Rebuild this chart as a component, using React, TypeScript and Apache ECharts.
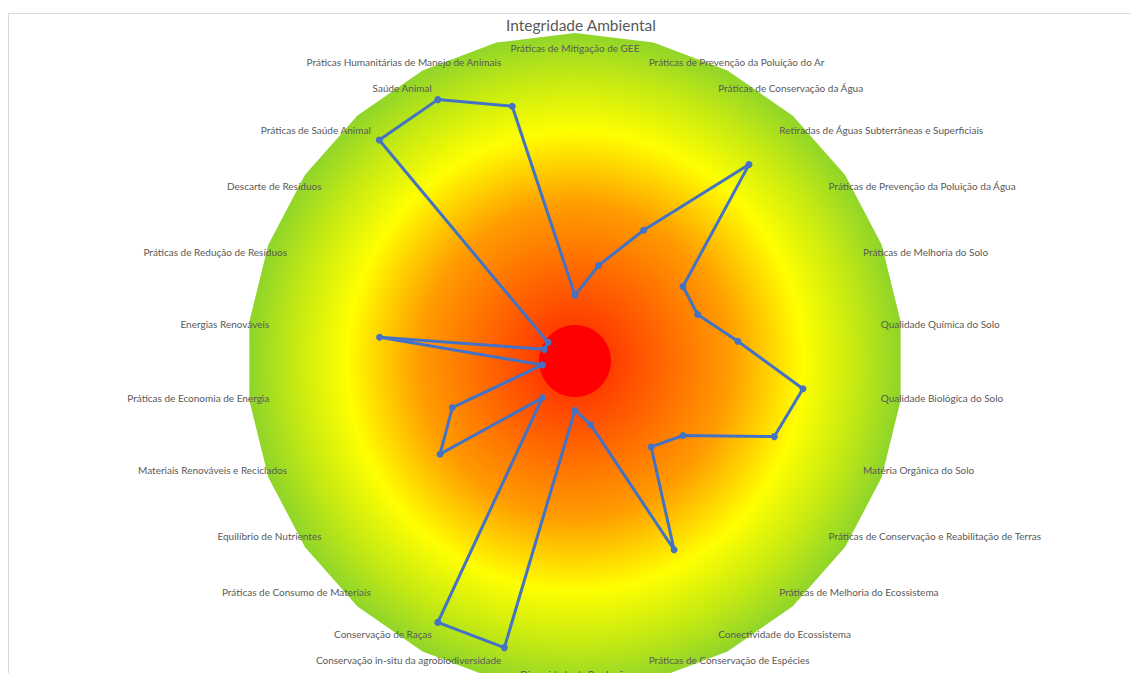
import React, { useEffect, useRef } from "react";
import * as echarts from "echarts";

// Indicators listed clockwise starting at the top of the radar
const indicators: string[] = [
  "Práticas de Mitigação de GEE",
  "Práticas de Prevenção da Poluição do Ar",
  "Práticas de Conservação da Água",
  "Retiradas de Águas Subterrâneas e Superficiais",
  "Práticas de Prevenção da Poluição da Água",
  "Práticas de Melhoria do Solo",
  "Qualidade Química do Solo",
  "Qualidade Biológica do Solo",
  "Matéria Orgânica do Solo",
  "Práticas de Conservação e Reabilitação de Terras",
  "Práticas de Melhoria do Ecossistema",
  "Conectividade do Ecossistema",
  "Práticas de Conservação de Espécies",
  "Diversidade da Produção",
  "Conservação in-situ da agrobiodiversidade",
  "Conservação de Raças",
  "Práticas de Consumo de Materiais",
  "Equilíbrio de Nutrientes",
  "Materiais Renováveis e Reciclados",
  "Práticas de Economia de Energia",
  "Energias Renováveis",
  "Práticas de Redução de Resíduos",
  "Descarte de Resíduos",
  "Práticas de Saúde Animal",
  "Saúde Animal",
  "Práticas Humanitárias de Manejo de Animais",
];

// Scores (0–10), same order as the indicators
const scores: number[] = [
  2, 3, 4.5, 8, 4, 4, 5, 7, 6.5, 4, 3.5, 6.5, 2, 1.5, 9, 9, 1.5, 5, 4, 1, 6, 1, 1,
  9, 9, 8,
];

const scaleMin = 0;
const scaleMax = 10;
const chartTitle = "Integridade Ambiental";

const CENTER: [number, number] = [566, 347];
const RADIUS = 328;
const TEXT_COLOR = "#595959";
const LINE_COLOR = "#4472c4";

export default function App() {
  const ref = useRef<HTMLDivElement>(null);

  useEffect(() => {
    if (!ref.current) return;
    const chart = echarts.init(ref.current, undefined, { renderer: "svg" });

    // ECharts lays radar axes out counter-clockwise, so walk the list backwards
    const order = indicators.map((_, i) => (i === 0 ? 0 : indicators.length - i));

    const background = new echarts.graphic.RadialGradient(0.5, 0.5, 0.5, [
      { offset: 0, color: "#ff2000" },
      { offset: 0.22, color: "#ff5a00" },
      { offset: 0.48, color: "#ff9d00" },
      { offset: 0.7, color: "#ffff00" },
      { offset: 0.86, color: "#c6ea12" },
      { offset: 1, color: "#8fd52a" },
    ]);

    chart.setOption({
      animation: false,
      backgroundColor: "#ffffff",
      title: {
        text: chartTitle,
        left: 572,
        top: 3,
        textAlign: "center",
        padding: 0,
        textStyle: {
          fontFamily: "Lato",
          fontSize: 15.5,
          fontWeight: "normal",
          color: TEXT_COLOR,
        },
      },
      radar: {
        center: CENTER,
        radius: RADIUS,
        startAngle: 90,
        shape: "polygon",
        splitNumber: 1,
        nameGap: -20,
        axisName: {
          color: TEXT_COLOR,
          fontFamily: "Lato",
          fontSize: 10,
        },
        axisLine: { show: false },
        axisTick: { show: false },
        axisLabel: { show: false },
        splitLine: { show: false },
        splitArea: { show: true, areaStyle: { color: [background] } },
        indicator: order.map((k) => ({
          name: indicators[k],
          min: scaleMin,
          max: scaleMax,
        })),
      },
      graphic: [
        {
          type: "circle",
          z: 1,
          silent: true,
          shape: { cx: CENTER[0], cy: CENTER[1], r: 36 },
          style: { fill: "#ff0000" },
        },
      ],
      series: [
        {
          type: "radar",
          z: 2,
          symbol: "circle",
          symbolSize: 7,
          lineStyle: { color: LINE_COLOR, width: 3 },
          itemStyle: { color: LINE_COLOR },
          data: [{ name: chartTitle, value: order.map((k) => scores[k]) }],
        },
      ],
    });

    return () => chart.dispose();
  }, []);

  return (
    <div
      style={{
        position: "fixed",
        left: 0,
        top: 0,
        width: 1131,
        height: 673,
        overflow: "hidden",
        background: "#ffffff",
      }}
    >
      <div
        style={{
          position: "absolute",
          left: 8,
          top: 13,
          borderTop: "1px solid #d9d9d9",
          borderLeft: "1px solid #d9d9d9",
        }}
      >
        <div ref={ref} style={{ width: 1130, height: 720 }} />
      </div>
    </div>
  );
}
